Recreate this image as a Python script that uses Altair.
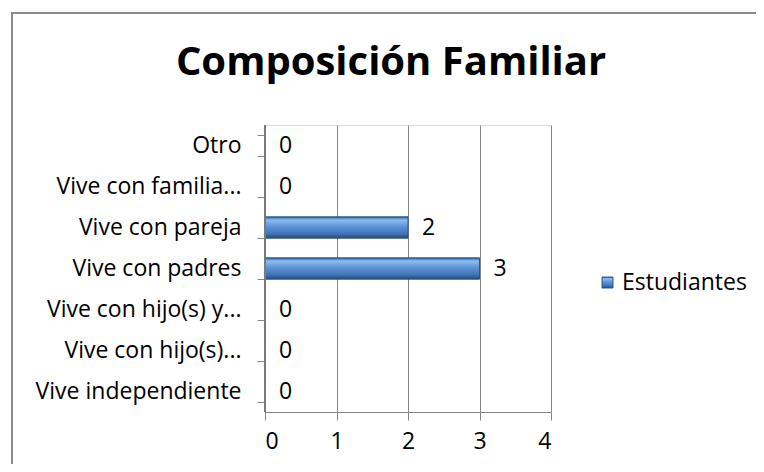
import altair as alt
import pandas as pd

categorias = ["Otro", "Vive con familia...", "Vive con pareja", "Vive con padres",
              "Vive con hijo(s) y...", "Vive con hijo(s)...", "Vive independiente"]
valores = [0, 0, 2, 3, 0, 0, 0]
serie = "Estudiantes"
x_ticks = [0, 1, 2, 3, 4]
titulo = "Composición Familiar"

df = pd.DataFrame({"categoria": categorias, "valor": valores, "serie": [serie] * len(categorias)})

FONT = "Open Sans"
FS = 23
GRAY = "#868686"

grad = alt.Gradient(
    gradient="linear", x1=0, x2=0, y1=0, y2=1,
    stops=[
        alt.GradientStop(color="#2f5f98", offset=0.0),
        alt.GradientStop(color="#8dbdf0", offset=0.15),
        alt.GradientStop(color="#5f95d6", offset=0.45),
        alt.GradientStop(color="#3f74b6", offset=0.8),
        alt.GradientStop(color="#23497a", offset=1.0),
    ],
)

y_enc = alt.Y("categoria:N", sort=categorias, title=None,
              scale=alt.Scale(paddingInner=0.48, paddingOuter=0.24),
              axis=alt.Axis(tickBand="extent", tickSize=8, labelPadding=16,
                            labelLimit=400, labelFont=FONT, labelFontSize=FS,
                            labelColor="#000000", domain=True, domainColor=GRAY,
                            domainWidth=1, tickColor=GRAY, grid=False))
x_enc = alt.X("valor:Q", title=None,
              scale=alt.Scale(domain=[0, 4], nice=False),
              axis=alt.Axis(values=x_ticks, tickSize=8, labelPadding=10,
                            labelFont=FONT, labelFontSize=FS, labelColor="#000000",
                            domainColor=GRAY, tickColor=GRAY, grid=True,
                            gridColor=GRAY, format="d"))

bars = alt.Chart(df).mark_bar(fill=grad).encode(
    x=x_enc, y=y_enc,
    stroke=alt.Stroke("serie:N", scale=alt.Scale(range=["#2a5585"]),
                      legend=alt.Legend(title=None, orient="none", legendX=331, legendY=146,
                                        symbolType="square", symbolSize=120,
                                        symbolFillColor="#4a7ebb", symbolStrokeWidth=1,
                                        labelFont=FONT, labelFontSize=FS, labelColor="#000000",
                                        labelOffset=3)),
    strokeWidth=alt.condition("datum.valor > 0", alt.value(1), alt.value(0)),
)

labels = alt.Chart(df).mark_text(align="left", baseline="middle", dx=14,
                                 font=FONT, fontSize=FS, color="#000000").encode(
    x=alt.X("valor:Q"), y=alt.Y("categoria:N", sort=categorias), text="valor:Q")

one = pd.DataFrame({"t": [titulo], "cero": [0]})
frame = alt.Chart(one).mark_rect(fill="transparent", stroke="#8c8c8c", strokeWidth=2).encode(
    x=alt.value(-253), x2=alt.value(700), y=alt.value(-112), y2=alt.value(500))

axis_line = alt.Chart(one).mark_rule(color="#7a7a7a", strokeWidth=2).encode(
    x=alt.X("cero:Q"))

title_txt = alt.Chart(one).mark_text(font=FONT, fontSize=40, fontWeight="bold",
                                     color="#000000", align="center",
                                     baseline="alphabetic").encode(
    x=alt.value(126), y=alt.value(-50), text="t:N")

chart = alt.layer(frame, bars, labels, axis_line, title_txt).properties(
    width=286, height=287,
    autosize=alt.AutoSizeParams(type="none"),
    padding={"left": 257, "top": 117, "right": 205, "bottom": 52},
).configure_view(stroke=None).configure(background="white")

chart.save("out.html", embed_options={"renderer": "svg", "actions": False})
